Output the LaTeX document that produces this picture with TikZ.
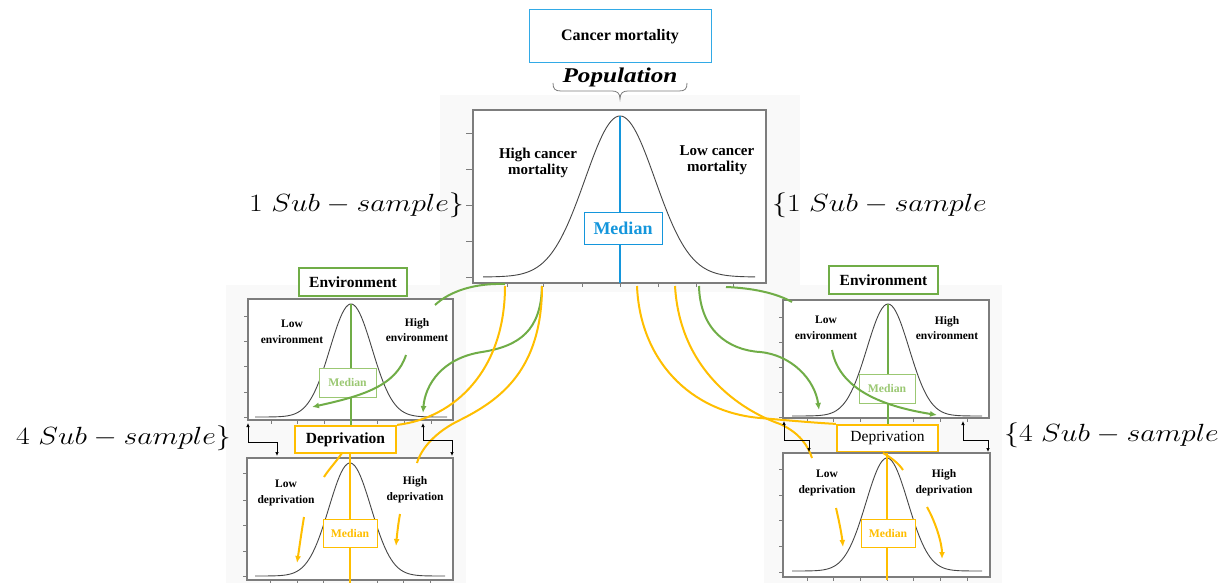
\documentclass[tikz,border=0pt]{standalone}
\usepackage{fontspec}
\setmainfont{Liberation Serif}
\usetikzlibrary{arrows.meta}
\definecolor{cblue}{RGB}{20,150,220}
\definecolor{cboxblue}{RGB}{50,170,230}
\definecolor{cgreen}{RGB}{112,173,71}
\definecolor{clgreen}{RGB}{155,200,115}
\definecolor{corange}{RGB}{255,190,0}
\definecolor{cframe}{RGB}{125,125,125}
\definecolor{ccurve}{RGB}{70,70,70}
\definecolor{cbg}{RGB}{249,249,249}
\tikzset{
  plotframe/.style={draw=cframe, line width=1.4pt, inner sep=0pt, outer sep=0pt},
  tickmark/.style={draw=cframe, line width=0.9pt},
  gauss/.style={draw=ccurve, line width=0.9pt},
  bigtitle/.style={draw=cboxblue, line width=1pt, inner sep=0pt, font=\bfseries\fontsize{16}{18}\selectfont},
  envbox/.style={draw=cgreen, line width=2.2pt, fill=white, inner sep=0pt, font=\bfseries\fontsize{15.5}{17}\selectfont},
  depbox/.style={draw=corange, line width=2.2pt, fill=white, inner sep=0pt, font=\fontsize{15.5}{17}\selectfont},
  medmain/.style={draw=cblue, line width=1pt, fill=white, inner sep=0pt, text=cblue, font=\bfseries\fontsize{18}{20}\selectfont},
  medenv/.style={draw=clgreen, line width=1pt, fill=white, inner sep=0pt, text=clgreen, font=\bfseries\fontsize{11.7}{13}\selectfont},
  meddep/.style={draw=corange, line width=1pt, fill=white, inner sep=0pt, text=corange, font=\bfseries\fontsize{11.7}{13}\selectfont},
  mainlab/.style={align=center, font=\bfseries\fontsize{15}{15.7}\selectfont},
  smalllab/.style={align=center, font=\bfseries\fontsize{11.5}{15.7}\selectfont},
  mathlab/.style={inner sep=0pt, font=\fontsize{28}{30}\selectfont},
  gline/.style={draw=cgreen, line width=2pt},
  oline/.style={draw=corange, line width=2pt},
  garrow/.style={gline, -{Latex[length=7pt,width=6pt]}},
  oarrow/.style={oline, -{Latex[length=7pt,width=6pt]}},
  elbow/.style={draw=black, line width=0.7pt, {Latex[length=4pt,width=3.5pt]}-{Latex[length=4pt,width=3.5pt]}},
}
\newcommand{\subsamp}[1]{\scalebox{1.2}[1]{#1}}
\begin{document}
\begin{tikzpicture}[x=1pt,y=-1pt]
\useasboundingbox (0,0) rectangle (1231,583);
% faint backgrounds
\fill[cbg] (440,95) rectangle (800,292);
\fill[cbg] (226,285) rectangle (466,583);
\fill[cbg] (764,285) rectangle (1002,583);

% ---------- top ----------
\node[bigtitle, minimum width=182pt, minimum height=53pt] (title) at (620,36.5) {Cancer mortality};
\node[font=\bfseries\itshape\fontsize{21}{22}\selectfont] (pop) at (620,77) {\scalebox{1.2}[1]{Population}};
\draw[cframe, line width=0.8pt] (553,83) .. controls (553,89) and (555,91) .. (561,91) -- (612,91) .. controls (617,91) and (620,93) .. (620,99)
  .. controls (620,93) and (623,91) .. (628,91) -- (679,91) .. controls (685,91) and (687,89) .. (687,83);

% ---------- main plot ----------
\node[plotframe, fill=white, minimum width=293pt, minimum height=173pt] (mp) at (619.5,196.5) {};
\foreach \y in {133,169,205,241,277} \draw[tickmark] (466,\y) -- (473,\y);
\foreach \x in {507,543,582,620,658,696,733} \draw[tickmark] (\x,283) -- (\x,287);
\draw[gauss] plot[domain=483:755, samples=120] (\x, {277-161*exp(-((\x-620)/35)^2/2)});
\coordinate (mpk) at (620,116);
\coordinate (mbot) at (620,283);
\draw[cblue, line width=2pt] (mpk) -- (mbot);
\node[medmain, minimum width=78pt, minimum height=32pt] (mmed) at (623,228) {Median};
\node[mainlab] (hcm) at (538,163) {High cancer\\mortality};
\node[mainlab] (lcm) at (717,160) {Low cancer\\mortality};

\node[mathlab, anchor=east] (s1l) at (464,205) {\subsamp{$1\ Sub-sample\}$}};
\node[mathlab, anchor=west] (s1r) at (772,205) {\subsamp{$\{1\ Sub-sample$}};
\node[mathlab, anchor=east] (s4l) at (231,438) {\subsamp{$4\ Sub-sample\}$}};
\node[mathlab, anchor=west] (s4r) at (1004,435) {\subsamp{$\{4\ Sub-sample$}};

% ---------- left environment plot ----------
\node[plotframe, fill=white, minimum width=205pt, minimum height=121pt] (lep) at (350.5,359.5) {};
\foreach \y in {316,341,366,392,417} \draw[tickmark] (244,\y) -- (248,\y);
\foreach \x in {271,297,324,351,377,404,431} \draw[tickmark] (\x,420) -- (\x,424);
\draw[gauss] plot[domain=255:447, samples=100] (\x, {417-113*exp(-((\x-351)/21)^2/2)});
\node[envbox, minimum width=108pt, minimum height=28pt] (lenv) at (353,282) {Environment};
\node[depbox, font=\bfseries\fontsize{15.5}{17}\selectfont, minimum width=101pt, minimum height=27pt] (ldep) at (345.5,439.5) {Deprivation};
\draw[gline] (351,304) -- (ldep.north -| 351,0);
\node[medenv, minimum width=57pt, minimum height=29pt] (lemed) at (347.5,382.5) {Median};
\node[smalllab] (llow) at (292,332) {Low\\environment};
\node[smalllab] (lhigh) at (417,330) {High\\environment};
\draw[garrow] (406,355) .. controls (396,386) and (362,396) .. (312,407);

% ---------- left deprivation plot ----------
\node[plotframe, fill=white, minimum width=206pt, minimum height=122pt] (ldp) at (350,519) {};
\foreach \y in {473,500,525,551,576} \draw[tickmark] (243,\y) -- (247,\y);
\foreach \x in {270,297,323,350,377,403,430} \draw[tickmark] (\x,580) -- (\x,583);
\draw[gauss] plot[domain=255:445, samples=100] (\x, {576-113*exp(-((\x-350)/21)^2/2)});
\draw[corange, line width=2pt] (ldep.south -| 350,0) -- (350,583);
\node[meddep, minimum width=54pt, minimum height=28pt] (ldmed) at (350,533) {Median};
\node[smalllab] (ldlow) at (286,493) {Low\\deprivation};
\node[smalllab] (ldhigh) at (415,490) {High\\deprivation};
\draw[oarrow] (304,517) .. controls (301,535) and (299,550) .. (297,563);
\draw[oarrow] (400,514) .. controls (398,525) and (397,535) .. (396,546);
\draw[oline] (342,453) .. controls (336,462) and (329,469) .. (324,477);

% ---------- right environment plot ----------
\node[plotframe, fill=white, minimum width=206pt, minimum height=118pt] (rep) at (886,359) {};
\foreach \y in {317,342,367,392,417} \draw[tickmark] (779,\y) -- (783,\y);
\foreach \x in {807,833,860,887,913,940,967} \draw[tickmark] (\x,418) -- (\x,422);
\draw[gauss] plot[domain=792:982, samples=100] (\x, {416-112*exp(-((\x-888)/21)^2/2)});
\node[envbox, minimum width=109pt, minimum height=28pt] (renv) at (883.5,280) {Environment};
\node[depbox, minimum width=101pt, minimum height=27pt] (rdep) at (887.5,438.5) {Deprivation};
\draw[gline] (888,304) -- (rdep.north -| 888,0);
\node[medenv, minimum width=56pt, minimum height=29pt] (remed) at (887,388.5) {Median};
\node[smalllab] (rlow) at (826,328) {Low\\environment};
\node[smalllab] (rhigh) at (947,328) {High\\environment};
\draw[garrow] (832,350) .. controls (838,382) and (868,404) .. (937,415);

% ---------- right deprivation plot ----------
\node[plotframe, fill=white, minimum width=207pt, minimum height=124pt] (rdp) at (886.5,515) {};
\foreach \y in {469,495,520,546,572} \draw[tickmark] (779,\y) -- (783,\y);
\foreach \x in {807,833,860,887,913,940,967} \draw[tickmark] (\x,577) -- (\x,581);
\draw[gauss] plot[domain=792:982, samples=100] (\x, {571-113*exp(-((\x-887)/21)^2/2)});
\draw[corange, line width=2pt] (rdep.south -| 887,0) -- (887,580);
\node[meddep, minimum width=54pt, minimum height=28pt] (rdmed) at (888,533) {Median};
\node[smalllab] (rdlow) at (827,483) {Low\\deprivation};
\node[smalllab] (rdhigh) at (944,483) {High\\deprivation};
\draw[oarrow] (836,508) .. controls (840,525) and (842,537) .. (843,547);
\draw[oarrow] (927,507) .. controls (937,525) and (942,545) .. (942,559);
\draw[oline] (883,453) .. controls (892,458) and (899,464) .. (903,470);

% ---------- connectors from main plot ----------
\coordinate (ga) at (505,284);
\coordinate (gb) at (542,286);
\coordinate (gc) at (699,286);
\coordinate (gd) at (726,287);
\coordinate (oa) at (505,286);
\coordinate (ob) at (542,286);
\coordinate (oc) at (637,286);
\coordinate (od) at (675,286);
\coordinate (lgend) at (435,305);
\coordinate (lgtip) at (423,413);
\coordinate (lotip) at (417,463);
\coordinate (rgend) at (792,302);
\coordinate (rgtip) at (819,410);
\coordinate (rotip) at (812,458);

\draw[gline] (ga) .. controls (475,283) and (450,291) .. (lgend);
\draw[garrow] (gb) .. controls (541,330) and (520,346) .. (482,352) .. controls (442,358) and (425,385) .. (lgtip);
\draw[oline] (oa) .. controls (505,370) and (455,418) .. (ldep.north east);
\draw[oline] (ob) .. controls (542,370) and (500,400) .. (460,420) .. controls (435,432) and (421,449) .. (lotip);

\draw[gline] (gd) .. controls (752,288) and (776,293) .. (rgend);
\draw[garrow] (gc) .. controls (700,330) and (728,350) .. (760,352) .. controls (792,355) and (815,380) .. (rgtip);
\draw[oline] (oc) .. controls (640,360) and (690,412) .. (760,418) .. controls (795,421) and (818,423) .. (rdep.north west);
\draw[oline] (od) .. controls (680,370) and (740,410) .. (780,424) .. controls (800,433) and (808,446) .. (rotip);

% ---------- elbow connectors ----------
\draw[elbow] (lep.south west) ++(0,3) -- (248,442) -- (277,442) -- (277,456);
\draw[elbow] (423,423) -- (423,440) -- (452,440) -- (452,456);
\draw[elbow] (784,421) -- (784,440) -- (809,440) -- (809,452);
\draw[elbow] (963,421) -- (963,440) -- (988,440) -- (988,452);
\end{tikzpicture}
\end{document}
